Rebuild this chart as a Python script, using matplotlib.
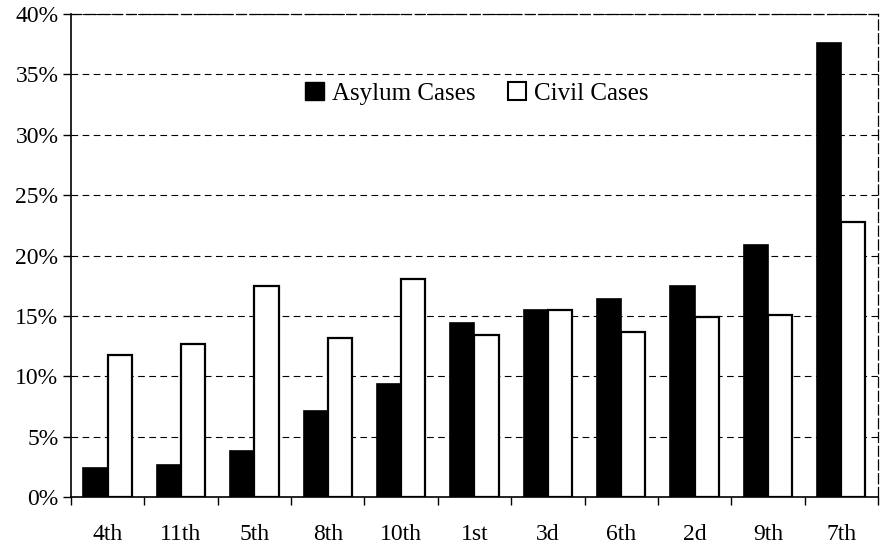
import numpy as np
import matplotlib.pyplot as plt
from matplotlib.patches import Patch
from matplotlib.ticker import FuncFormatter

plt.rcParams['font.family'] = ['Liberation Serif', 'DejaVu Serif']

circuits = ['4th', '11th', '5th', '8th', '10th', '1st', '3d', '6th', '2d', '9th', '7th']
asylum = [2.4, 2.7, 3.8, 7.1, 9.4, 14.4, 15.5, 16.4, 17.5, 20.9, 37.6]
civil = [11.8, 12.7, 17.5, 13.2, 18.1, 13.4, 15.5, 13.7, 14.9, 15.1, 22.8]

fig = plt.figure(figsize=(8.83, 5.47), dpi=100)
ax = fig.add_axes([0.0804, 0.0909, 0.9139, 0.8835])

x = np.arange(len(circuits))
w = 0.33
ax.bar(x - w / 2, asylum, w, color='black', edgecolor='black', linewidth=1.2, zorder=3)
ax.bar(x + w / 2, civil, w, color='white', edgecolor='black', linewidth=1.6, zorder=3)

ax.set_xlim(-0.5, len(circuits) - 0.5)
ax.set_ylim(0, 40)
ax.set_yticks(np.arange(0, 41, 5))
ax.yaxis.set_major_formatter(FuncFormatter(lambda v, p: f'{v:.0f}%'))
ax.yaxis.grid(True, linestyle=(0, (6, 4)), color='black', linewidth=0.8, zorder=0)

ax.set_xticks(x)
ax.set_xticklabels(circuits)
ax.set_xticks(np.arange(-0.5, len(circuits), 1), minor=True)
ax.tick_params(axis='x', which='major', length=0, pad=19, labelsize=17)
ax.tick_params(axis='x', which='minor', length=6, direction='out', width=1)
ax.tick_params(axis='y', length=6, direction='out', width=1, labelsize=17, pad=3)

for s in ['left', 'bottom']:
    ax.spines[s].set_linewidth(1.2)
for s in ['top', 'right']:
    ax.spines[s].set_linestyle((0, (8, 3)))
    ax.spines[s].set_linewidth(0.9)

handles = [Patch(facecolor='black', edgecolor='black', label='Asylum Cases'),
           Patch(facecolor='white', edgecolor='black', linewidth=1.5, label='Civil Cases')]
ax.legend(handles=handles, loc='center', bbox_to_anchor=(0.503, 0.836), ncol=2,
          frameon=False, fontsize=18, handlelength=0.75, handleheight=0.75,
          handletextpad=0.3, columnspacing=1.3)

fig.savefig('out.png', dpi=100)
